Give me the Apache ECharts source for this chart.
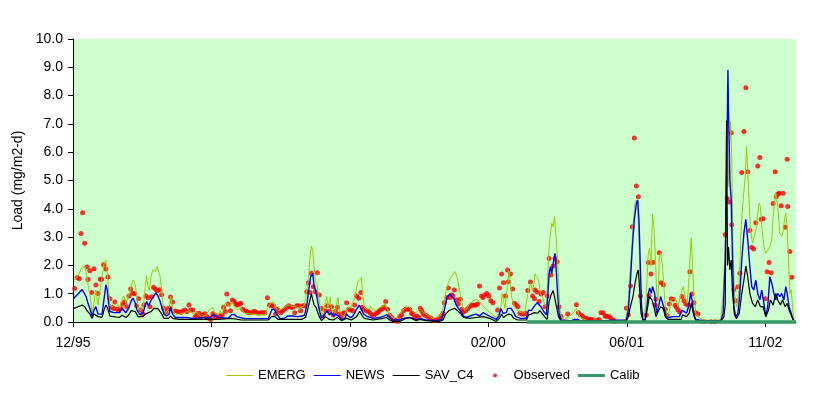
<!DOCTYPE html>
<html><head><meta charset="utf-8">
<script src="https://cdn.jsdelivr.net/npm/echarts@6/dist/echarts.min.js"></script>
<style>html,body{margin:0;padding:0;background:#fff}#c{width:829px;height:396px}</style>
</head><body><div id="c"></div>
<script>
// x = week number counted from the first sample (12/95)
const tickLabels = ['12/95','05/97','09/98','02/00','06/01','11/02'];
const weeksPerTick = 72;
const weekMax = 376;

const emerg = [[0.5,1.46],[2.8,1.66],[4.7,1.93],[6.1,1.98],[6.8,1.78],[8,1.25],[9.2,0.78],[9.9,0.31],[10.9,0.66],[11.9,1.13],[13,0.6],[14,0.66],[15.1,1.6],[16.1,2.05],[17.1,2.19],[17.8,1.72],[18.5,1.13],[19.2,0.66],[20.3,0.52],[21.3,0.59],[22.7,0.68],[24.1,0.52],[25.5,0.78],[26.5,0.92],[27.5,0.68],[28.9,0.95],[30.3,1.31],[31.3,1.48],[32.4,1.31],[33.4,0.78],[34.1,0.48],[35.2,0.42],[36.5,0.52],[37.6,1.25],[38.3,1.63],[39,1.25],[39.7,1.13],[40.7,1.66],[41.7,1.84],[42.8,1.78],[43.8,1.96],[44.5,1.9],[45.2,1.63],[46.2,1.13],[46.9,0.54],[48,0.31],[49,0.28],[50,0.48],[50.7,0.9],[51.8,0.48],[52.5,0.33],[53.9,0.28],[55.6,0.28],[57.3,0.31],[59,0.37],[60.8,0.4],[62.5,0.28],[64.2,0.37],[65.3,0.25],[66.3,0.31],[67.4,0.19],[68.4,0.13],[69.4,0.25],[70.5,0.4],[71.5,0.33],[72.6,0.52],[73.6,0.37],[74.6,0.28],[75.7,0.25],
[76.5,0.4],[77.6,0.28],[78.6,0.6],[79.7,0.68],[80.7,0.6],[81.7,0.52],[82.8,0.72],[83.8,0.54],[84.8,0.48],[85.9,0.42],[86.9,0.52],[88,0.42],[89.4,0.31],[92.8,0.28],[99.7,0.25],[101.5,0.52],[102.9,0.66],[104.2,0.72],[105.3,0.52],[106.7,0.4],[108.4,0.45],[110.1,0.52],[111.5,0.6],[113.3,0.57],[115,0.54],[116.7,0.52],[118.4,0.52],[120.2,0.57],[121.2,0.95],[122.3,1.48],[123.3,2.31],[124,2.69],[124.7,2.49],[125.4,1.96],[126.1,1.48],[126.8,1.37],[127.5,1.04],[128.1,0.72],[128.8,0.42],[129.5,0.19],[130.2,0.25],[131.3,0.72],[132,0.9],[132.6,0.48],[133.7,0.87],[134.4,0.45],[135.4,0.45],[136.1,0.31],[136.8,0.52],[137.8,0.87],[138.5,0.42],[139.6,0.25],[141,0.19],[142,0.37],[143,0.52],[144.1,0.48],[145.1,0.48],[146.2,0.8],[147.2,1.11],[148.2,1.43],[149.3,1.5],[150,1.58],[150.6,1.0],[151.5,0.5],
[152.6,0.45],[153.9,0.47],[155,0.54],[156,0.42],[157.8,0.42],[159.5,0.52],[161.2,0.54],[162.3,0.66],[163.3,0.48],[164.7,0.28],[166.4,0.13],[168.1,0.16],[169.9,0.28],[171.6,0.42],[173.3,0.52],[174.7,0.54],[176.1,0.42],[177.8,0.31],[179.2,0.37],[180.3,0.45],[181.7,0.37],[183.4,0.28],[185.5,0.19],[187.2,0.13],[188.9,0.16],[190.7,0.21],[192,0.37],[193.1,0.72],[194.1,1.13],[195.2,1.39],[196.5,1.6],[197.6,1.66],[198.6,1.78],[199.7,1.6],[200.7,1.25],[201.7,0.87],[202.8,0.54],[203.8,0.4],[204.9,0.48],[206.2,0.64],[208,0.75],[209.7,0.8],[211.1,0.75],[212.5,0.64],[213.9,0.52],[215.6,0.4],[217.3,0.31],[219.1,0.21],[220.4,0.16],[221.5,0.31],[222.5,0.54],[223.2,1.01],[223.9,0.75],[224.6,0.48],[225.3,0.9],[226,1.3],[226.7,1.8],[227.4,1.4],[228.2,0.85],[229.6,0.54],[231.3,0.4],[233.1,0.33],[234.8,0.31],[235.8,0.37],[236.9,1.13],[237.9,1.37],[239,1.11],[239.6,1.31],[240.3,1.7],[241,1.6],[242.1,1.48],[243.1,1.01],[244.1,0.9],[245.2,0.66],[246.2,0.54],[246.9,1.6],[247.6,2.66],[248.3,3.13],[249,3.49],[249.7,3.37],[250.4,3.72],[251.1,3.13],[251.8,2.43],[252.5,1.48],[253.1,0.54],[253.8,0.19],[255.6,0.09],[257.3,0.16],[259,0.25],[260.8,0.37],[261.8,0.48],[262.8,0.31],[264.2,0.13],[267.7,0.05],[272.9,0.04],[281.5,0.02],[286.7,0.02],[287.8,0.19],[288.8,0.78],[289.9,1.96],[290.5,2.54],[291.2,3.37],[292.3,4.19],[293,4.31],[293.7,4.08],[294.4,2.66],[295.1,1.25],[295.7,0.54],[296.4,0.19],[297.1,0.16],[297.8,0.54],[298.5,1.48],[299.2,2.43],[299.9,2.6],[300.6,1.96],[301.4,3.82],[302.1,3.37],[302.8,2.43],[303.5,1.13],[304.2,0.78],[304.9,2.31],[305.6,2.43],[306.6,1.96],[307.3,1.25],[308,0.54],[309,0.21],[310.1,0.37],[311.1,0.78],[312.2,0.84],[313.6,0.78],[314.6,0.54],[315.6,0.48],[316.7,1.13],[317.4,1.25],[318.4,0.9],[319.4,0.66],[320.1,1.25],[320.8,2.19],[321.5,2.96],[322.2,1.96],[322.9,1.01],[323.9,0.31],[325,0.19],[327.4,0.07],[334.3,0.05],[336.9,0.09],[338.1,1.01],[339.2,2.66],[339.9,7.14],[340.6,4.78],[341.3,5.96],[342,7.08],[342.6,5.72],[343.3,2.43],[344,1.01],[345.1,0.54],[346.1,1.01],[346.8,1.96],[347.5,3.37],[348.5,4.31],[349.6,5.14],[350.3,6.2],[350.9,5.37],[351.6,4.31],[352.3,3.25],[353.4,2.78],[354.4,2.72],[355.5,3.37],[356.1,3.84],[356.8,4.19],[357.5,4.08],[358.2,3.37],[359.3,2.66],[360.3,2.43],[361.3,2.54],[362.4,2.66],[363.4,2.9],[364.1,3.72],[364.8,4.19],[365.5,4.55],[366.5,4.08],[367.6,3.13],[368.6,3.02],[369.3,3.19],[370,3.6],[370.7,3.84],[371.4,3.37],[372.1,2.19],[372.8,1.01],[373.5,1.13],[374.2,0.54],[374.9,0.07]];

const news = [[0.5,0.84],[2.6,0.99],[4.7,1.15],[5.7,1.13],[6.8,0.9],[7.8,0.66],[8.8,0.47],[9.9,0.21],[10.9,0.42],[11.9,0.54],[13,0.28],[15.1,0.28],[16.1,0.78],[17.1,1.31],[17.8,1.13],[18.5,0.66],[19.2,0.37],[21.3,0.33],[24.1,0.33],[25.5,0.48],[26.5,0.54],[27.5,0.33],[28.9,0.48],[30.3,0.75],[31.3,0.84],[32.4,0.66],[33.4,0.4],[34.8,0.26],[36.5,0.33],[37.6,0.6],[38.3,0.72],[39.3,0.57],[40.7,0.78],[42.1,0.92],[43.1,1.04],[44.2,0.92],[45.2,0.75],[46.2,0.52],[47.3,0.28],[48.7,0.21],[50,0.28],[50.7,0.52],[51.8,0.28],[53.2,0.16],[59,0.16],[62.5,0.12],[67.7,0.16],[70.5,0.12],[72.9,0.25],[75.7,0.16],
[80.7,0.13],[82.4,0.25],[83.8,0.27],[85.2,0.19],[86.9,0.16],[89.4,0.12],[101.5,0.12],[102.3,0.25],[103.5,0.45],[104.6,0.45],[106,0.28],[107.7,0.12],[110.1,0.13],[111.5,0.21],[114,0.21],[116.7,0.19],[119.1,0.21],[120.5,0.25],[121.6,0.6],[122.6,1.13],[123.6,1.6],[124.7,1.72],[125.4,1.25],[126.1,1.13],[127.1,0.78],[128.1,0.42],[129.2,0.13],[130.2,0.09],[131.3,0.31],[132.3,0.4],[133.3,0.25],[134.4,0.33],[135.4,0.21],[136.5,0.28],[137.5,0.33],[138.5,0.19],[139.6,0.09],[141.3,0.12],[142.3,0.28],[143.4,0.19],[144.8,0.16],[146.2,0.28],[147.5,0.45],[148.9,0.6],
[150.1,0.42],[151.2,0.28],[152.6,0.21],[156,0.13],[159.5,0.16],[161.6,0.21],[163,0.25],[164.7,0.16],[166.4,0.07],[169.9,0.07],[171.6,0.13],[175.1,0.16],[176.8,0.13],[178.5,0.07],[180.3,0.13],[183.7,0.07],[188.9,0.05],[191.7,0.09],[193.1,0.42],[194.5,0.87],[195.9,0.99],[196.9,1.04],[198,0.84],[199,0.64],[200.4,0.48],[201.7,0.37],[203.1,0.21],[204.5,0.16],[208,0.25],[209.7,0.28],[211.4,0.21],[213.2,0.33],[216.6,0.21],[220.1,0.09],[221.5,0.21],[222.5,0.48],[223.6,0.31],[224.5,0.25],[225.3,0.33],[226.1,0.48],
[227.9,0.48],[229.2,0.33],[230.3,0.19],[233.1,0.12],[235.8,0.14],[236.9,0.42],[238.3,0.4],[240,0.57],[241.4,0.68],[242.4,0.75],[243.4,0.54],[244.8,0.37],[246.2,0.25],[246.9,0.9],[247.6,1.72],[248.3,1.96],[249,1.72],[250,2.19],[250.7,2.43],[251.4,1.72],[252.1,0.9],[252.8,0.31],[253.8,0.07],[259,0.04],[260.8,0.09],[262.5,0.09],[264.2,0.02],[287.8,0.07],[288.8,0.42],[289.9,1.48],[290.9,2.66],[291.9,3.6],[293,4.19],[293.7,4.31],[294.4,3.49],[295.1,1.84],[295.7,0.54],[296.4,0.09],[297.5,0.07],[298.5,0.54],[299.2,1.01],[299.9,1.2],
[300.7,1.01],[301.4,1.25],[302.5,1.01],[303.5,0.31],[304.5,0.54],[305.6,0.9],[306.6,0.84],[307.7,0.42],[308.7,0.13],[310.1,0.16],[311.8,0.19],[315.3,0.19],[316.7,0.42],[319.1,0.31],[320.1,0.54],[321.2,1.01],[321.9,0.78],[322.9,0.25],[323.9,0.09],[327.4,0.05],[336.9,0.05],[338.1,0.31],[339.2,2.19],[339.9,5.14],[340.6,8.9],[340.9,7.49],[341.6,5.02],[342.3,4.31],[343,2.19],[343.7,0.54],[344.7,0.16],[345.8,0.31],[346.8,1.01],[347.8,2.19],[348.9,3.13],[349.9,3.63],[350.9,2.9],[352,1.96],[353,1.25],[354,1.13],[355.1,1.48],[356.1,1.01],[357.2,0.78],[358.2,1.13],[359.3,0.66],[360.3,0.19],[361.3,0.54],[362.4,1.6],[363.4,1.37],[364.5,1.01],[365.5,0.78],[366.5,1.01],[367.6,0.9],[368.6,1.01],[369.7,0.78],[370.7,1.25],[371.4,1.01],[372.4,0.54],[373.5,0.31],[374.5,0.07]];

const savC4 = [[0.5,0.48],[2.6,0.54],[4.7,0.6],[6.1,0.54],[7.1,0.42],[8.8,0.28],[9.9,0.12],[10.9,0.28],[13,0.19],[15.1,0.16],[16.1,0.42],[17.1,0.6],[17.8,0.52],[19.2,0.21],[24.1,0.16],[25.5,0.24],[26.5,0.28],[27.5,0.16],[28.9,0.24],[30.3,0.4],[31.3,0.45],[32.4,0.37],[33.8,0.19],[36.5,0.19],[37.6,0.28],[40.7,0.37],[42.1,0.48],[43.1,0.54],[44.2,0.47],[45.2,0.42],[46.2,0.28],[47.3,0.13],[49.7,0.13],[50.7,0.21],[52.1,0.12],[55.6,0.09],[75.7,0.09],
[82.4,0.13],[87.6,0.07],[101.5,0.07],[103.2,0.19],[104.9,0.19],[106.7,0.09],[118.8,0.09],[120.9,0.16],[121.9,0.4],[123,0.72],[124,0.99],[124.7,0.78],[125.4,0.6],[126.4,0.52],[127.1,0.37],[128.1,0.19],[129.2,0.05],[131.3,0.19],[133.3,0.09],[135.4,0.07],[137.5,0.16],[139.6,0.05],[142.3,0.13],[144.8,0.07],[147.5,0.19],[149.1,0.38],
[150.5,0.21],[151.5,0.13],[156,0.07],[161.2,0.13],[163,0.16],[164.7,0.07],[166.4,0.02],[170,0.02],[173.3,0.13],[175.1,0.16],[178.5,0.05],[180.3,0.09],[183.7,0.05],[190.7,0.02],[192.4,0.07],[193.8,0.28],[195.5,0.4],[197.2,0.45],[198.6,0.48],[200,0.4],[201.4,0.31],[203.1,0.16],[206.2,0.13],[209.7,0.16],[213.5,0.19],[216.6,0.13],[220.1,0.02],[221.8,0.13],[222.9,0.28],[223.9,0.16],[225.3,0.24],[226.7,0.28],
[228,0.25],[229.2,0.13],[231.3,0.07],[235.8,0.07],[236.9,0.25],[238.3,0.28],[240,0.33],[241.7,0.31],[242.8,0.4],[243.8,0.31],[245.2,0.19],[246.6,0.09],[247.6,0.72],[248.6,0.95],[249.7,1.11],[250.4,0.9],[251.4,0.54],[252.5,0.19],[253.8,0.04],[287.8,0.04],[288.8,0.19],[289.9,0.54],[291.2,0.9],[292.3,1.37],[293.3,1.72],[294,1.84],[294.7,1.13],[295.4,0.31],[296.4,0.05],[297.5,0.05],[298.9,0.54],
[299.7,0.9],[301.1,0.78],[302.1,0.54],[303.2,0.19],[304.5,0.4],[305.6,0.54],[307,0.48],[308,0.19],[309.4,0.09],[316.3,0.09],[317,0.25],[319.1,0.19],[320.5,0.31],[321.5,0.66],[322.6,0.31],[323.9,0.05],[336.9,0.02],[338.5,0.19],[339.2,0.6],[339.9,7.1],[340.4,2.0],[340.9,2.66],[341.6,1.84],[342.3,2.19],[343,1.01],[344,0.25],[345.1,0.12],[346.5,0.31],[347.8,1.01],[348.9,1.48],[349.9,1.98],[350.9,1.6],[352,1.01],[353.4,0.66],[354.8,0.54],[356.1,0.78],[357.5,0.54],[358.9,0.54],[360.3,0.19],[361.7,0.42],[362.7,0.78],[364.1,0.6],[365.5,1.01],[366.5,0.78],[367.9,0.6],[369,0.78],[370.4,0.54],[371.4,0.66],[372.4,0.42],[373.8,0.19],[374.9,0.05]];

const observed = [[0.9,1.18],[2.2,1.57],[3.3,1.53],[4.2,3.13],[5.0,3.86],[6.1,2.78],[7.3,1.94],[7.8,1.5],[8.8,1.81],[9.7,1.04],[10.9,1.88],[11.9,1.31],[13,1.01],[14.2,1.51],[14.9,1.51],[15.9,2.02],[17.1,1.87],[18.2,1.59],[19.2,0.82],[20.3,0.52],[21.1,0.48],[21.8,0.71],[22.9,0.45],[23.9,0.4],[24.9,0.47],[25.8,0.64],[26.9,0.71],[28,0.54],[29.1,0.92],[30,1.17],[31,1.02],[32.1,1.0],[33.1,0.57],[34.1,0.82],[35.2,0.42],[36.4,0.28],[36.9,0.6],[37.9,0.92],[39,0.86],[40,0.54],[41,0.89],[41.9,1.23],[42.9,1.16],[44,1.11],[45,1.14],[46.1,0.96],[47.1,0.49],[48.2,0.35],[49.5,0.47],[50.5,0.49],[50.7,0.88],[51.8,0.71],[53,0.39],[53.8,0.36],[55,0.36],[56.1,0.34],[57.3,0.39],[58.2,0.42],[59.2,0.36],[60.3,0.6],[61.3,0.42],[62.3,0.42],[63.4,0.18],[64.4,0.26],[65.5,0.31],[66.5,0.18],[67.5,0.25],[68.6,0.29],[69.6,0.18],[70.6,0.13],[71.7,0.09],[72.7,0.29],[73.8,0.18],[74.8,0.21],[75.8,0.18],
[76.5,0.21],[77.6,0.25],[78.3,0.52],[79.3,0.37],[80,0.99],[80.7,0.64],[81.9,0.4],[82.9,0.78],[83.8,0.72],[84.7,0.64],[85.5,0.6],[86.4,0.64],[87.3,0.66],[88.3,0.45],[89.4,0.4],[90.4,0.37],[91.4,0.33],[92.5,0.33],[93.5,0.35],[94.5,0.38],[95.6,0.33],[96.6,0.31],[97.7,0.33],[98.7,0.33],[99.7,0.33],[101.1,0.86],[102.2,0.6],[103.2,0.57],[104.2,0.57],[105.3,0.28],[106,0.45],[107,0.4],[108.1,0.33],[109.1,0.4],[110.1,0.45],[111.2,0.52],[112.2,0.57],[113.3,0.52],[114.3,0.52],[115.3,0.33],[116.4,0.57],[117.4,0.57],[118.4,0.4],[119.5,0.57],[120.5,0.57],[121.6,1.07],[122.4,1.39],[123.3,1.04],[124,1.72],[125,1.25],[126.1,1.07],[127.1,1.74],[128.1,0.95],[129.2,0.48],[130.2,0.21],[131.3,0.4],[132.3,0.57],[133.3,0.37],[134.4,0.54],[135.4,0.25],[136.5,0.37],[137.5,0.52],[138.5,0.28],[139.6,0.19],[140.6,0.31],[141.3,0.33],[142.3,0.68],[143.4,0.45],[144.4,0.42],[145.5,0.4],[146.5,0.6],[147.5,0.92],[148.6,0.84],
[149.7,1.04],[150.5,0.52],[151.5,0.45],[152.6,0.4],[153.6,0.37],[154.6,0.31],[155.7,0.24],[156.7,0.26],[157.8,0.31],[158.8,0.35],[159.8,0.42],[160.9,0.47],[161.6,0.52],[162.6,0.72],[163.6,0.45],[164.7,0.24],[165.7,0.16],[166.8,0.07],[167.8,0.05],[168.8,0.02],[169.9,0.19],[170.9,0.26],[172,0.4],[173,0.45],[174,0.45],[175.1,0.45],[176.1,0.31],[176.8,0.28],[177.8,0.16],[178.9,0.21],[179.9,0.16],[180.6,0.49],[181.3,0.4],[182,0.31],[183,0.24],[184.1,0.21],[185.1,0.16],[186.2,0.13],[187.2,0.07],[188.2,0.05],[189.3,0.07],[190.3,0.13],[191.4,0.21],[192.4,0.31],[193.1,0.68],[194.5,0.87],[195.2,1.2],[196.2,0.87],[196.9,0.95],[197.6,0.92],[198.3,1.13],[199.3,0.78],[200.4,0.64],[201.4,0.8],[202.1,0.45],[203.1,0.35],[204.2,0.4],[205.2,0.47],[206.2,0.54],[207.3,0.59],[208.3,0.6],[209.4,0.59],[210.4,0.64],[211.4,1.27],[212.5,0.92],[213.2,0.87],[214.2,0.95],[215.2,1.01],[216.3,0.92],[217.3,0.75],[218.4,0.68],[220.8,0.42],[221.8,1.2],[222.9,1.7],[223.9,1.39],[224.9,0.92],[226,1.84],[226.4,1.42],
[227.5,1.7],[228.6,1.17],[229.6,0.66],[230.5,0.6],[231.3,0.54],[232.4,0.31],[233.4,0.28],[234.4,0.28],[235.5,0.31],[236.5,1.11],[237.9,1.41],[239,0.92],[240,0.82],[240.3,1.13],[241.4,1.06],[242.4,0.72],[243.4,0.99],[244.5,1.04],[245.5,0.54],[246.6,0.92],[247.6,2.24],[248.6,1.66],[249.7,1.98],[250.7,2.24],[251.8,2.13],[252.8,0.54],[253.8,0.19],[257.3,0.28],[261.8,0.61],[262.8,0.33],[263.9,0.26],[264.9,0.21],[266,0.14],[267,0.12],[268,0.09],[269.1,0.09],[270.1,0.09],[272.5,0.05],[273.6,0.09],[274.6,0.33],[275.7,0.33],[276.7,0.21],[277.7,0.19],[278.8,0.19],[279.8,0.12],[280.9,0.07],[281.9,0.02],[287.8,0.49],[288.8,0.26],[289.9,1.27],[290.9,3.37],[291.9,6.5],[293,4.81],[294,4.43],[295.1,0.92],[298.2,0.25],[299.2,2.1],[299.6,0.93],[300.6,1.7],[301.6,2.1],
[302.8,0.6],[303.2,0.8],[304.9,2.45],[305.9,1.39],[307,1.32],[308,0.45],[309,0.24],[310.1,0.64],[311.1,0.82],[312.2,0.8],[313.2,0.59],[313.9,0.52],[314.6,0.42],[315.6,0.35],[316.7,0.9],[317.7,0.75],[318.7,0.64],[319.8,0.61],[320.8,1.78],[321.9,0.99],[322.9,0.68],[323.9,0.33],[325,0.28],[328.1,0.01],[331.9,0.01],[334,0.01],[339.2,3.09],[340.2,4.36],[341.3,4.24],[342.3,6.69],[342.6,3.44],[343.7,1.15],[344.7,0.75],[345.8,1.25],[346.8,1.72],[347.8,5.28],[348.9,6.73],[349.9,8.28],[350.9,5.31],[352,3.23],[353,2.64],[354,2.58],[355.1,3.51],[356.1,5.51],[357.2,5.81],[357.9,3.63],[358.9,3.65],[360,0.82],[361,1.78],[362,2.1],[363.1,1.74],[364.1,4.19],[365.2,5.31],[365.8,4.43],[366.5,4.51],[367.2,4.55],[368.3,4.11],[369.3,4.55],[370.4,3.35],[371.4,5.75],[371.7,4.08],[372.8,2.49],[373.8,1.58]];

const calib = [[236,0],[376,0]];

const FONT = 'Arial, "Liberation Sans", sans-serif';
const tickValues = tickLabels.map((_, i) => i * weeksPerTick);
const thinIcon = 'path://M0,0H27V1H0Z';
const thickIcon = 'path://M0,0H27V3H0Z';
const dotIcon = 'path://M0,0M27,4M11.5,2A2,2 0 1,0 15.5,2A2,2 0 1,0 11.5,2Z';

const chart = echarts.init(document.getElementById('c'), null, {renderer: 'canvas'});
chart.setOption({
  animation: false,
  backgroundColor: '#ffffff',
  textStyle: {fontFamily: FONT},
  grid: {left: 73, right: 33, top: 39, bottom: 74, show: true, backgroundColor: '#CCFFCC', borderWidth: 0},
  legend: {
    left: 226, top: 369, padding: 0, itemGap: 8, itemWidth: 27, itemHeight: 5,
    textStyle: {fontSize: 13, color: '#000', fontFamily: FONT},
    data: [
      {name: 'EMERG', icon: thinIcon},
      {name: 'NEWS', icon: thinIcon},
      {name: 'SAV_C4', icon: thinIcon},
      {name: 'Observed', icon: dotIcon},
      {name: 'Calib', icon: thickIcon}
    ]
  },
  xAxis: {
    type: 'value', min: 0, max: weekMax,
    axisLine: {show: true, onZero: false, lineStyle: {color: '#000', width: 1}},
    axisTick: {show: true, length: 5, customValues: tickValues, lineStyle: {color: '#000'}},
    axisLabel: {customValues: tickValues, formatter: v => tickLabels[Math.round(v / weeksPerTick)] || '',
      color: '#000', fontSize: 14, fontFamily: FONT, margin: 14},
    splitLine: {show: false}
  },
  yAxis: {
    type: 'value', min: 0, max: 10, interval: 1,
    name: 'Load (mg/m2-d)', nameLocation: 'middle', nameGap: 40,
    nameTextStyle: {fontSize: 14, color: '#000', fontFamily: FONT},
    axisLine: {show: true, lineStyle: {color: '#000', width: 1}},
    axisTick: {show: true, length: 5, lineStyle: {color: '#000'}},
    axisLabel: {formatter: v => v.toFixed(1), color: '#000', fontSize: 14, fontFamily: FONT, margin: 10},
    splitLine: {show: false}
  },
  series: [
    {name: 'EMERG', type: 'line', data: emerg, symbol: 'none', lineStyle: {color: '#99CC00', width: 1}, itemStyle: {color: '#99CC00'}},
    {name: 'NEWS', type: 'line', data: news, symbol: 'none', lineStyle: {color: '#0000FF', width: 1.4}, itemStyle: {color: '#0000FF'}},
    {name: 'SAV_C4', type: 'line', data: savC4, symbol: 'none', lineStyle: {color: '#000000', width: 1.2}, itemStyle: {color: '#000000'}},
    {name: 'Observed', type: 'scatter', data: observed, symbol: 'circle', symbolSize: 5, itemStyle: {color: '#FF0000'}},
    {name: 'Calib', type: 'line', data: calib, symbol: 'none', clip: false, z: 5, lineStyle: {color: '#339966', width: 3.5}, itemStyle: {color: '#339966'}}
  ]
});
</script></body></html>
